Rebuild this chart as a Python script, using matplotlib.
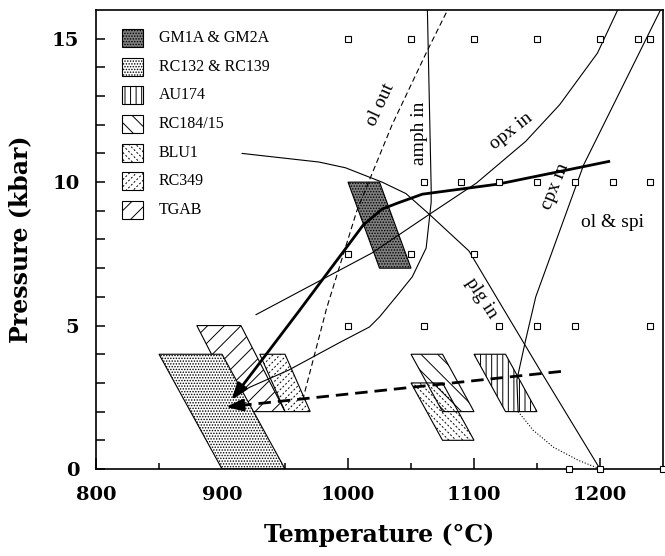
import numpy as np
import matplotlib
matplotlib.use("Agg")
import matplotlib.pyplot as plt
from matplotlib.patches import Polygon
from matplotlib.collections import LineCollection
from matplotlib.transforms import IdentityTransform

# experimental runs (T in C, P in kbar)
run_t = [1000, 1050, 1100, 1150, 1200, 1230, 1240,
         1060, 1090, 1120, 1150, 1180, 1210, 1240,
         1000, 1050, 1100,
         1000, 1060, 1120, 1150, 1180, 1240,
         1175, 1200, 1250]
run_p = [15] * 7 + [10] * 7 + [7.5] * 3 + [5] * 6 + [0] * 3

# phase boundaries
ol_out_t = [964, 983, 1007, 1035, 1062, 1079]
ol_out_p = [2.4, 5.6, 9.0, 12.0, 14.5, 16.0]
amph_t = [912, 922, 953, 993, 1017, 1025, 1040, 1051, 1062, 1066, 1066, 1063]
amph_p = [2.6, 2.85, 3.45, 4.4, 4.95, 5.3, 6.1, 6.7, 7.7, 9.3, 9.8, 16.0]
opx_t = [927, 1019, 1065, 1102, 1141, 1168, 1198, 1214]
opx_p = [5.38, 7.53, 8.89, 9.97, 11.42, 12.7, 14.5, 16.0]
plg_t = [916, 977, 998, 1027, 1046, 1064, 1096, 1119, 1153, 1200]
plg_p = [11.0, 10.7, 10.5, 10.0, 9.6, 8.9, 7.6, 5.9, 3.4, 0.0]
cpx_t = [1135, 1134, 1141, 1149, 1187, 1248]
cpx_p = [2.0, 3.1, 4.5, 6.0, 10.6, 16.0]
cpx_dot_t = [1135, 1147, 1163, 1183, 1200]
cpx_dot_p = [2.0, 1.35, 0.76, 0.3, 0.0]

# P-T paths
path_t = [1208, 1119, 1059, 1040, 1027, 1012, 961, 907.5]
path_p = [10.73, 9.93, 9.58, 9.28, 9.06, 8.5, 5.5, 2.4]
dpath_t = [1169, 903]
dpath_p = [3.4, 2.16]

# sample P-T fields (parallelograms)
names = ['GM1A & GM2A', 'RC132 & RC139', 'AU174', 'RC184/15', 'BLU1', 'RC349', 'TGAB']
top_p = [10, 4, 4, 4, 3, 4, 5]
bot_p = [7, 0, 2, 2, 1, 2, 2]
top_t0 = [1000, 850, 1100, 1050, 1050, 930, 880]
top_t1 = [1025, 900, 1125, 1075, 1075, 950, 915]
bot_t0 = [1025, 900, 1125, 1075, 1075, 950, 915]
bot_t1 = [1050, 950, 1150, 1100, 1100, 970, 950]

styles = {
    'GM1A & GM2A': dict(fc='0.5', hatch='......'),
    'RC132 & RC139': dict(fc='white', hatch='......'),
    'AU174': dict(fc='none', hatch='|||'),
    'RC184/15': dict(fc='none', hatch='\\\\'),
    'BLU1': dict(fc='none', hatch=None, dash='\\'),
    'RC349': dict(fc='none', hatch=None, dash='/'),
    'TGAB': dict(fc='none', hatch='//'),
}
order = ['TGAB', 'RC349', 'RC132 & RC139', 'RC184/15', 'BLU1', 'AU174', 'GM1A & GM2A']

plt.rcParams['hatch.linewidth'] = 0.7
serif = ['Liberation Serif', 'DejaVu Serif']


def dash_hatch(ax, patch, direction, step=7.0):
    # short dashed hatch lines in pixels, clipped to the patch
    pts = patch.get_transform().transform(patch.get_xy())
    x0, y0 = pts.min(axis=0) - 2
    x1, y1 = pts.max(axis=0) + 2
    segs = []
    if direction == '/':
        # y = x + c
        for c in np.arange(y0 - x1, y1 - x0 + step, step):
            segs.append([(x0, x0 + c), (x1, x1 + c)])
    else:
        # y = -x + c
        for c in np.arange(x0 + y0, x1 + y1 + step, step):
            segs.append([(x0, c - x0), (x1, c - x1)])
    lc = LineCollection(segs, colors='k', linewidths=0.7,
                        linestyles=[(0, (2.0, 2.0))], transform=IdentityTransform())
    ax.add_collection(lc)
    lc.set_clip_path(patch)


def draw_box(ax, verts, name, transform):
    st = styles[name]
    poly = Polygon(verts, closed=True, facecolor=st['fc'], edgecolor='k',
                   lw=0.8, hatch=st.get('hatch'), transform=transform, zorder=2)
    ax.add_patch(poly)
    if st.get('dash'):
        dash_hatch(ax, poly, st['dash'])
    return poly


fig = plt.figure(figsize=(6.65, 5.56), dpi=100)
ax = fig.add_axes([0.1444, 0.1565, 0.8526, 0.8255])
ax.set_xlim(800, 1250)
ax.set_ylim(0, 16)

for nm in order:
    i = names.index(nm)
    verts = [(top_t0[i], top_p[i]), (top_t1[i], top_p[i]),
             (bot_t1[i], bot_p[i]), (bot_t0[i], bot_p[i])]
    draw_box(ax, verts, nm, ax.transData)

# phase boundaries
ax.plot(ol_out_t, ol_out_p, 'k--', lw=0.8, dashes=(5, 3))
ax.plot(amph_t, amph_p, 'k-', lw=0.8)
ax.plot(opx_t, opx_p, 'k-', lw=0.8)
ax.plot(plg_t, plg_p, 'k-', lw=0.8)
ax.plot(cpx_t, cpx_p, 'k-', lw=0.8)
ax.plot(cpx_dot_t, cpx_dot_p, 'k:', lw=0.8)

# P-T paths with arrow heads
ax.plot(path_t[:-1], path_p[:-1], 'k-', lw=2.0, zorder=4, solid_capstyle='butt')
ax.annotate('', xy=(path_t[-1], path_p[-1]), xytext=(path_t[-2], path_p[-2]),
            arrowprops=dict(arrowstyle='-|>,head_length=1.0,head_width=0.35',
                            lw=2.0, color='k', shrinkA=0, shrinkB=0), zorder=4)
frac = 0.95
mid_t = dpath_t[0] + (dpath_t[1] - dpath_t[0]) * frac
mid_p = dpath_p[0] + (dpath_p[1] - dpath_p[0]) * frac
ax.plot([dpath_t[0], mid_t], [dpath_p[0], mid_p], 'k--', lw=2.0, dashes=(4.5, 2.5), zorder=4)
ax.annotate('', xy=(dpath_t[1], dpath_p[1]), xytext=(mid_t, mid_p),
            arrowprops=dict(arrowstyle='-|>,head_length=1.0,head_width=0.35',
                            lw=2.0, color='k', shrinkA=0, shrinkB=0), zorder=4)

# run squares
ax.plot(run_t, run_p, 's', ms=5, mfc='white', mec='k', mew=0.8, clip_on=False, zorder=5)

# labels on the diagram
fs = 14
ax.text(1026, 12.7, 'ol out', rotation=65, fontsize=fs, family=serif, ha='center', va='center')
ax.text(1057, 11.7, 'amph in', rotation=90, fontsize=fs, family=serif, ha='center', va='center')
ax.text(1129.6, 11.77, 'opx in', rotation=38, fontsize=fs, family=serif, ha='center', va='center')
ax.text(1164.4, 9.86, 'cpx in', rotation=68, fontsize=fs, family=serif, ha='center', va='center')
ax.text(1106, 5.97, 'plg in', rotation=-57, fontsize=fs, family=serif, ha='center', va='center')
ax.text(1210, 8.58, 'ol & spi', fontsize=fs, family=serif, ha='center', va='center')

# legend drawn by hand in axes fraction
lx0, lw_, lh = 0.0459, 0.037, 0.039
ly0, lstep = 0.939, 0.0625
for k, nm in enumerate(names):
    yc = ly0 - k * lstep
    verts = [(lx0, yc - lh / 2), (lx0 + lw_, yc - lh / 2),
             (lx0 + lw_, yc + lh / 2), (lx0, yc + lh / 2)]
    draw_box(ax, verts, nm, ax.transAxes)
    ax.text(0.111, yc, nm, transform=ax.transAxes, fontsize=11.5, family=serif,
            ha='left', va='center')

# axes styling
ax.set_xticks(np.arange(800, 1201, 100))
ax.set_xticks(np.arange(850, 1250, 100), minor=True)
ax.set_yticks([0, 5, 10, 15])
ax.set_yticks(np.arange(0, 16, 1), minor=True)
ax.tick_params(axis='x', which='major', direction='in', length=8, width=1.1, pad=12)
ax.tick_params(axis='x', which='minor', direction='in', length=4.5, width=1.1)
ax.tick_params(axis='y', which='both', direction='in', length=6.5, width=1.1, pad=12)
for lab in ax.get_xticklabels() + ax.get_yticklabels():
    lab.set_family('DejaVu Serif')
    lab.set_fontweight('bold')
    lab.set_fontsize(14)
for sp in ax.spines.values():
    sp.set_linewidth(1.2)
ax.set_xlabel('Temperature (°C)', family='DejaVu Serif', fontweight='bold', fontsize=17, labelpad=14)
ax.set_ylabel('Pressure (kbar)', family='DejaVu Serif', fontweight='bold', fontsize=17, labelpad=14)

fig.savefig('out.png', dpi=100)
